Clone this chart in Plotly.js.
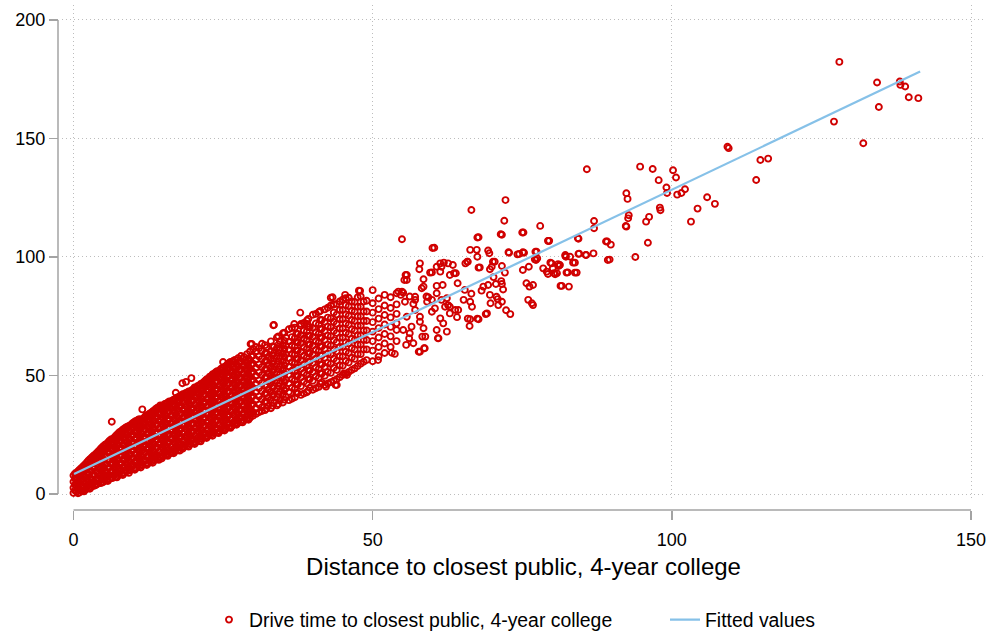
<!DOCTYPE html>
<html>
<head>
<meta charset="utf-8">
<script src="https://cdn.plot.ly/plotly-3.0.1.min.js"></script>
<style>html,body{margin:0;padding:0;background:#fff;}#chart{width:991px;height:631px;}</style>
</head>
<body>
<div id="chart"></div>
<script>
// Dense core: distance columns and the drive times read at each column
const coreDist = [0,0.5,1,1.5,2,2.5,3,3.5,4,4.5,5,5.5,6,6.5,7,7.5,8,8.5,9,9.5,10,10.5,11,11.5,12,12.5,13,13.5,14,14.5,15,15.5,16,16.5,17,17.5,18,18.5,19,19.5,20,20.5,21,21.5,22,22.5,23,23.5,24,24.5,25,25.5,26,26.5,27,27.5,28,28.5,29,29.5,30];
const coreTime = [
 [0.4,2.6,5.2,7.8],
 [1.0,3.8,6.5,9.0],
 [0.6,2.2,4.9,7.6,10.2],
 [1.4,3.6,6.3,9.1,11.4],
 [1.8,4.5,7.4,10.3,12.6],
 [2.4,5.4,8.6,11.5,14.1],
 [3.1,6.2,9.6,12.7,15.3],
 [3.5,5.0,7.9,11.0,14.2,16.4],
 [4.2,6.8,9.9,12.8,15.6,17.6],
 [4.6,7.7,10.8,14.0,16.9,19.0],
 [5.1,8.3,11.4,14.6,17.8,20.2],
 [5.8,9.2,12.6,15.8,18.9,21.0],
 [6.3,8.0,11.2,14.3,17.4,20.3,22.4],
 [6.7,9.6,12.8,16.1,19.0,21.8,23.1],
 [7.2,10.3,13.5,16.7,19.9,22.6,24.4],
 [7.8,11.0,14.4,17.6,20.8,23.7,25.6],
 [8.3,9.9,12.9,16.0,19.2,22.4,25.0,26.6],
 [8.9,11.6,14.9,18.1,21.3,24.2,27.5],
 [9.6,12.4,15.5,18.8,22.0,25.1,28.4],
 [10.0,13.3,16.6,19.8,23.0,26.2,28.9],
 [10.6,12.2,15.2,18.5,21.7,24.9,27.8,30.1],
 [11.0,13.9,17.1,20.3,23.5,26.6,29.4,30.8],
 [11.6,14.7,17.9,21.1,24.3,27.4,30.2,31.6],
 [12.1,15.4,18.6,21.9,25.2,28.4,31.0],
 [12.6,14.3,17.5,20.7,23.9,27.1,30.0,32.8],
 [13.0,16.1,19.3,22.6,25.8,28.9,31.8,33.4],
 [13.6,16.8,20.0,23.3,26.5,29.6,32.5,34.3],
 [14.2,17.6,20.9,24.1,27.4,30.6,33.6,35.2],
 [14.9,16.4,19.6,22.8,26.1,29.3,32.4,35.6,36.4],
 [15.4,18.3,21.5,24.8,28.0,31.2,34.3,37.4],
 [15.9,19.0,22.3,25.6,28.8,32.0,35.1,37.3],
 [16.5,19.8,23.0,26.3,29.6,32.9,36.0,38.1],
 [17.0,18.6,21.8,25.0,28.3,31.5,34.7,37.6,39.0],
 [17.5,20.5,23.7,27.0,30.2,33.4,36.6,39.4],
 [18.1,21.3,24.6,27.8,31.1,34.3,37.4,40.1],
 [18.6,22.0,25.3,28.6,31.9,35.1,38.3,40.8],
 [19.4,20.9,24.1,27.4,30.7,33.9,37.1,40.2,41.6],
 [19.9,22.8,26.1,29.4,32.6,35.8,39.0,42.0],
 [20.4,23.6,26.9,30.2,33.4,36.7,39.9,42.6],
 [21.0,24.4,27.7,31.0,34.2,37.5,40.7,43.2],
 [21.5,23.1,26.3,29.6,32.9,36.1,39.4,42.5,44.1],
 [22.0,25.2,28.5,31.8,35.0,38.3,41.5,44.8],
 [22.5,25.9,29.2,32.5,35.8,39.1,42.3,45.6],
 [23.3,26.8,30.1,33.4,36.7,40.0,43.2,46.5],
 [24.0,25.5,28.8,32.1,35.4,38.6,41.9,45.1,47.8],
 [24.5,27.4,30.7,34.0,37.3,40.6,43.9,47.0,48.4],
 [25.0,28.2,31.5,34.8,38.1,41.4,44.7,47.9,49.7],
 [25.6,29.0,32.3,35.6,38.9,42.2,45.5,48.8,50.6],
 [26.0,27.6,30.9,34.2,37.5,40.8,44.1,47.4,50.2,51.8],
 [26.6,29.7,33.0,36.3,39.6,42.9,46.2,49.4,52.4],
 [27.1,30.4,33.8,37.1,40.4,43.7,47.0,50.3,53.2],
 [27.6,31.1,34.5,37.8,41.2,44.5,47.8,51.1,54.0],
 [28.2,29.9,33.2,36.5,39.8,43.2,46.5,49.8,53.0,55.3],
 [28.7,31.9,35.3,38.6,41.9,45.3,48.6,51.9,55.8],
 [29.5,32.8,36.1,39.5,42.8,46.1,49.5,52.8,56.6],
 [30.0,33.5,36.9,40.2,43.6,47.0,50.3,53.7,57.3],
 [30.5,32.2,35.5,38.9,42.3,45.6,49.0,52.4,55.7,58.2],
 [31.0,34.3,37.7,41.1,44.5,47.8,51.2,54.6,57.8],
 [31.6,35.0,38.4,41.8,45.2,48.6,52.0,55.4,59.0],
 [32.2,35.8,39.2,42.6,46.0,49.4,52.8,56.3,60.1],
 [33.0,34.6,38.0,41.4,44.8,48.2,51.6,55.0,58.4,61.2]
];
// Dense core, in-between columns
const coreDistB = [0.25,0.75,1.25,1.75,2.25,2.75,3.25,3.75,4.25,4.75,5.25,5.75,6.25,6.75,7.25,7.75,8.25,8.75,9.25,9.75,10.25,10.75,11.25,11.75,12.25,12.75,13.25,13.75,14.25,14.75,15.25,15.75,16.25,16.75,17.25,17.75,18.25,18.75,19.25,19.75,20.25,20.75,21.25,21.75,22.25,22.75,23.25,23.75,24.25,24.75,25.25,25.75,26.25,26.75,27.25,27.75,28.25,28.75,29.25,29.75];
const coreTimeB = [
 [1.5,3.9,6.5,8.6],
 [0.3,2.4,5.1,7.8,9.6],
 [1.4,3.6,6.2,8.9,10.8],
 [1.1,2.5,5.0,7.7,10.2,12.0],
 [3.1,6.0,8.9,11.6,13.4],
 [2.2,3.9,7.0,10.1,12.9,14.7],
 [4.6,7.9,11.2,14.0,15.9],
 [3.8,6.4,9.5,12.6,15.3,17.0],
 [5.5,8.4,11.4,14.2,16.8,18.2],
 [4.8,6.2,9.3,12.4,15.5,18.3,19.6],
 [6.7,9.9,13.0,16.2,19.1,20.8],
 [5.5,7.5,10.9,14.2,17.4,20.2,21.7],
 [6.9,9.6,12.8,15.9,18.9,21.5,23.0],
 [8.1,11.2,14.5,17.6,20.5,23.6],
 [7.0,8.8,11.9,15.1,18.3,21.3,23.8,25.0],
 [9.4,12.7,16.0,19.2,22.3,24.8,26.2],
 [8.0,11.4,14.5,17.6,20.8,23.8,26.0,27.2],
 [10.2,13.3,16.5,19.7,22.8,25.8,28.1],
 [8.9,11.0,14.0,17.2,20.4,23.5,26.7,28.7],
 [11.6,14.9,18.2,21.4,24.6,27.6,29.6],
 [10.2,13.7,16.9,20.1,23.3,26.4,29.0,30.6],
 [12.4,15.5,18.7,21.9,25.1,28.0,30.1,31.2],
 [11.2,13.1,16.3,19.5,22.7,25.8,28.9,31.3],
 [13.7,17.0,20.2,23.5,26.7,29.8,32.0],
 [12.2,15.9,19.1,22.3,25.5,28.6,31.5,33.2],
 [14.5,17.7,21.0,24.2,27.4,30.4,32.9,34.0],
 [13.2,15.2,18.4,21.6,24.9,28.1,31.1,33.8,34.9],
 [15.8,19.2,22.5,25.8,29.0,32.1,34.8,35.9],
 [14.4,17.9,21.1,24.4,27.6,30.8,33.9,36.4],
 [15.0,16.8,19.9,23.2,26.4,29.6,32.7,35.8,37.3],
 [17.4,20.6,23.9,27.2,30.4,33.5,36.6,38.0],
 [16.1,18.2,21.4,24.7,27.9,31.2,34.4,37.1,38.6],
 [17.4,20.2,23.4,26.6,29.9,33.1,36.2,38.8],
 [17.2,19.0,22.1,25.3,28.6,31.8,35.0,38.0,39.8],
 [19.7,22.9,26.2,29.4,32.7,35.9,38.9,40.6],
 [18.3,20.3,23.6,26.9,30.2,33.5,36.7,39.7,41.2],
 [19.1,22.5,25.7,29.0,32.3,35.5,38.6,41.0,42.1],
 [21.3,24.4,27.7,31.0,34.2,37.4,40.5,42.6],
 [20.0,22.0,25.2,28.5,31.8,35.0,38.3,41.3,43.3],
 [22.7,26.0,29.3,32.6,35.8,39.1,42.1,43.8],
 [21.1,24.7,27.9,31.2,34.5,37.7,40.9,43.6,45.0],
 [23.6,26.8,30.1,33.4,36.6,39.9,43.1,45.6],
 [22.2,24.2,27.5,30.8,34.1,37.4,40.6,43.8,46.4],
 [25.0,28.4,31.7,35.0,38.3,41.5,44.6,47.2],
 [23.6,27.1,30.4,33.7,37.0,40.2,43.5,46.5,48.4],
 [25.9,29.0,32.3,35.6,38.9,42.2,45.4,48.6,49.5],
 [24.6,26.6,29.8,33.1,36.4,39.7,43.0,46.2,49.3,50.5],
 [27.3,30.6,33.9,37.2,40.5,43.8,47.1,50.0,51.4],
 [25.7,29.2,32.5,35.8,39.1,42.4,45.7,48.9,51.5],
 [28.1,31.4,34.7,38.0,41.3,44.6,47.9,51.0,53.0],
 [26.8,28.8,32.1,35.4,38.7,42.0,45.3,48.6,51.8,53.7],
 [29.4,32.8,36.1,39.5,42.8,46.1,49.4,52.6,54.8],
 [27.9,31.5,34.8,38.1,41.4,44.8,48.1,51.4,54.3],
 [30.3,33.6,36.9,40.3,43.6,46.9,50.3,53.6,56.2],
 [29.2,31.2,34.5,37.8,41.1,44.5,47.8,51.1,54.7],
 [31.8,35.2,38.6,41.9,45.3,48.6,52.0,55.4],
 [30.2,33.8,37.2,40.6,44.0,47.4,50.7,54.0,57.0],
 [32.6,36.0,39.4,42.8,46.2,49.6,52.9,56.4],
 [31.3,33.4,36.8,40.2,43.6,47.0,50.4,53.8,57.2],
 [34.0,37.4,40.8,44.2,47.6,51.0,54.4,58.0]
];
// Middle band: distance columns and drive times
const midDist = [31,32,32.5,33,33.5,34,34.5,35,35.5,36,37,37.5,38,39,39.5,40,41,41.5,42,43,44,45,46,47,48,49,50,51,52,53,54];
const midTime = [
 [34.5,37.8,41.2,44.6,48.0,51.3,54.7,58.0,61.5],
 [35.4,38.9,42.3,45.7,49.1,52.5,55.9,59.3,62.8],
 [37.0,40.5,44.0,47.5,51.0,54.4,57.8],
 [36.2,39.7,43.1,46.6,50.0,53.4,56.9,60.3,64.4],
 [38.5,42.0,45.5,49.0,52.5,56.0,59.5,62.0],
 [37.4,40.8,44.3,47.8,51.2,54.7,58.1,61.6,66.0],
 [39.5,43.2,46.8,50.4,54.0,57.6,61.0,64.5],
 [38.6,42.0,45.5,49.0,52.5,56.0,59.4,62.9,67.8],
 [41.0,44.6,48.2,51.8,55.4,59.0,62.6,66.0],
 [39.6,43.1,46.7,50.2,53.8,57.3,60.8,64.3,69.5],
 [40.8,44.4,48.0,51.6,55.2,58.8,62.3,65.8,70.2],
 [42.5,46.2,49.9,53.5,57.1,60.6,64.0,67.5],
 [41.8,45.5,49.2,52.8,56.4,60.0,63.6,67.0,71.0],
 [42.9,46.6,50.3,54.0,57.7,61.3,65.0,68.6,73.2],
 [44.8,48.5,52.2,55.9,59.6,63.2,66.8,70.4],
 [44.0,47.8,51.5,55.2,58.9,62.6,66.3,70.0,75.6],
 [45.2,49.0,52.8,56.5,60.3,64.0,67.7,71.5,76.8],
 [47.0,50.8,54.6,58.4,62.2,66.0,69.7,73.4],
 [46.0,49.9,53.7,57.5,61.3,65.1,68.9,72.7,77.9],
 [47.2,51.1,54.9,58.8,62.6,66.5,70.3,74.1,79.5],
 [48.4,52.3,56.2,60.1,64.0,67.9,71.8,75.7,80.2],
 [50.2,54.1,58.0,62.0,65.9,69.8,73.7,77.6,82.0],
 [51.5,55.5,59.5,63.5,67.5,71.4,75.3,79.2,82.8],
 [53.0,57.0,61.0,65.0,69.0,73.0,77.0,81.0],
 [55.0,59.0,63.0,67.0,71.0,75.0,79.0,83.4],
 [56.5,61.0,65.0,69.0,73.0,77.0,81.5],
 [56.0,60.5,64.5,68.5,72.5,76.5,80.5,86.0],
 [58.0,62.0,66.0,70.0,74.0,78.0,82.5],
 [59.5,63.5,67.5,71.5,75.5,79.5,84.0],
 [62.0,66.5,70.5,74.5,78.5,83.0],
 [64.5,72.0,76.0,80.0]
];
// Middle band, in-between columns
const midDistB = [30.5,31.5,32.25,33.25,34.25,35.25,36.5,37.25,38.5,39.25,40.5,41.25,42.5,43.5,44.5,45.5,46.5,47.5,48.5];
const midTimeB = [
 [33.8,36.3,39.7,43.1,46.5,49.9,53.3,56.7,60.2,62.0],
 [35.0,36.6,40.0,43.4,46.8,50.2,53.6,57.0,60.4,63.4],
 [36.0,39.2,42.6,46.0,49.4,52.8,56.2,59.6,61.8],
 [37.2,41.4,44.8,48.3,51.7,55.1,58.6,62.2],
 [38.0,42.1,45.6,49.1,52.6,56.0,59.5,63.0,66.5],
 [39.8,43.8,47.3,50.8,54.3,57.8,61.2,64.6,68.0],
 [40.2,44.8,48.4,52.0,55.6,59.1,62.6,66.2,70.0],
 [42.6,46.2,49.8,53.4,57.0,60.5,64.1,67.6],
 [42.4,47.4,51.1,54.7,58.3,61.9,65.5,69.0,72.2],
 [43.6,48.4,52.1,55.8,59.4,63.0,66.7,70.4,73.8],
 [44.6,49.6,53.4,57.1,60.8,64.5,68.2,71.9,76.0],
 [46.5,50.9,54.7,58.4,62.2,65.9,69.6,73.4,77.2],
 [46.6,51.5,55.3,59.2,63.0,66.8,70.6,74.4,78.6],
 [47.8,53.2,57.1,61.0,64.9,68.8,72.7,76.6,80.0],
 [49.3,54.2,58.1,62.0,65.9,69.8,73.7,77.6,81.2],
 [50.8,56.1,60.0,64.0,68.0,71.9,75.8,79.6,82.6],
 [52.3,57.5,61.5,65.5,69.5,73.4,77.3,81.2],
 [54.0,59.0,63.0,67.0,71.0,75.0,79.0,83.0],
 [55.8,61.0,65.0,69.0,73.0,77.0,81.2]
];
// Scattered points read individually
const tailDist = [6.4,11.5,17.1,18.2,18.8,19.7,21.8,24.0,25.0,26.2,22.0,29.6,29.8,33.4,33.5,36.9,38.0,39.1,37.9,42.2,43.8,45.2,44.0,45.7,43.3,45.4,47.9,47.7,43.0,
 54.9,60.3,67.7,71.6,75.2,79.5,66.3,67.4,69.3,69.5,67.5,72.8,74.5,75.3,77.4,77.5,77.3,65.8,67.9,69.6,69.9,70.4,71.6,72.1,
 57.9,57.8,55.7,55.7,55.1,54.3,54.7,55.4,57.1,56.8,58.5,59.6,60.7,61.3,61.9,62.6,63.4,61.3,62.9,63.9,64.2,61.7,60.7,58.2,59.3,59.1,60.4,62.4,62.6,63.8,64.1,62.9,59.9,61.3,61.8,57.9,57.1,55.7,56.5,57.9,58.5,58.8,56.1,56.8,55.6,61.0,62.4,60.7,56.2,55.1,54.0,53.2,53.7,57.9,58.7,50.9,
 65.4,66.3,66.6,67.7,66.3,69.1,71.0,71.6,70.7,69.6,68.5,69.3,70.6,71.6,73.0,75.7,76.2,76.8,76.0,76.6,76.8,78.5,79.1,79.9,81.0,80.8,81.6,83.0,75.1,76.1,79.3,80.5,81.3,82.3,83.8,84.1,82.6,81.4,82.8,80.1,
 59.9,61.5,63.6,65.5,65.9,67.7,70.1,68.9,67.5,65.9,66.2,60.9,58.3,58.6,57.7,66.5,68.2,69.7,70.9,72.3,71.8,70.2,71.5,
 54.0,54.9,56.2,57.1,58.5,59.0,59.9,60.7,61.5,62.1,62.9,64.3,65.2,55.3,55.5,
 66.5,72.2,72.0,71.4,67.5,60.0,78.0,75.0,79.3,84.3,87.0,87.0,77.1,72.7,74.2,75.1,77.2,82.2,84.4,85.7,86.9,89.2,89.3,
 128.0,134.3,138.1,138.2,139.0,139.6,141.2,134.6,127.1,132.0,109.3,109.5,114.8,116.1,114.1,85.8,94.7,96.8,100.2,100.7,97.8,99.1,99.2,100.9,101.6,102.2,92.4,92.6,92.8,92.7,92.3,92.4,96.2,95.7,98.0,98.1,105.9,104.3,107.2,103.2,84.4,89.0,89.8,96.0,89.6,93.9,84.5,85.6,79.4,82.2,83.5,79.7,81.1,80.3,82.4,83.8];
const tailTime = [30.5,35.7,42.7,46.7,47.3,48.9,46.4,47.4,55.7,55.7,46.0,63.3,63.3,71.2,71.3,71.7,71.7,71.7,76.5,45.3,46.0,50.9,46.0,50.2,83.0,84.0,85.7,85.8,82.8,
 107.5,103.9,108.3,109.4,110.3,106.8,103.0,103.0,102.7,101.6,100.1,101.8,101.3,101.8,102.2,99.4,98.7,98.0,95.6,94.8,95.9,98.0,96.2,93.4,
 97.3,94.8,92.4,90.3,84.9,85.4,84.0,81.1,83.2,80.2,90.6,93.4,95.9,97.3,97.6,97.3,96.6,93.8,92.4,93.1,88.9,88.2,87.8,86.8,83.0,81.1,78.3,82.6,79.7,77.6,74.6,76.2,76.9,74.1,72.0,74.8,77.6,74.8,70.6,72.7,69.9,66.4,65.7,63.6,62.9,65.7,68.5,69.2,67.8,69.2,69.2,59.6,59.1,60.0,61.5,56.5,
 86.1,81.1,79.0,73.7,73.7,76.2,79.7,81.1,83.2,84.0,87.5,88.2,88.6,88.6,75.9,88.9,87.5,88.2,81.9,80.5,79.7,95.2,93.8,97.3,97.0,93.1,87.8,100.1,94.5,95.9,92.8,92.7,96.6,100.1,97.6,93.4,93.5,87.8,87.5,95.2,
 93.5,95.9,93.1,97.3,98.0,95.5,98.0,75.9,74.0,74.0,70.9,65.7,66.4,61.5,60.0,84.5,85.8,80.5,82.2,77.5,86.3,91.5,89.8,
 84.7,85.4,83.3,81.9,87.5,83.3,81.9,84.7,81.9,79.0,79.0,77.6,81.9,90.3,92.4,
 119.8,124.0,115.3,109.6,108.2,103.8,113.1,110.3,106.8,107.9,115.2,112.1,99.0,102.0,101.1,102.0,102.2,100.8,101.3,100.8,101.5,106.5,98.7,
 182.3,173.6,174.0,172.6,171.9,167.4,167.0,163.3,157.1,148.0,146.5,145.9,140.9,141.5,132.5,137.0,138.1,137.1,136.6,133.5,132.4,129.3,127.0,126.3,127.0,128.6,126.9,124.5,117.6,116.3,113.1,112.8,116.9,114.9,120.8,119.7,125.2,120.4,122.4,114.9,107.7,106.5,105.2,106.0,98.9,100.0,101.4,100.8,106.8,100.4,97.6,97.6,96.2,93.1,93.4,93.4];
// Fitted values (linear fit), drawn across the distance range
const fitDist = [0.1, 141.5];
const fitTime = [8.4, 178.2];
const xTicks = [0, 50, 100, 150];
const yTicks = [0, 50, 100, 150, 200];
const xTitle = 'Distance to closest public, 4-year college';
const scatterName = 'Drive time to closest public, 4-year college';
const fitName = 'Fitted values';

// Build the point table from the columns
const ptsX = [], ptsY = [];
function addColumns(dists, times) {
  dists.forEach((d, i) => times[i].forEach(t => { ptsX.push(d); ptsY.push(t); }));
}
addColumns(coreDist, coreTime);
addColumns(coreDistB, coreTimeB);
addColumns(midDist, midTime);
addColumns(midDistB, midTimeB);
tailDist.forEach((d, i) => { ptsX.push(d); ptsY.push(tailTime[i]); });

const RED = '#d00000';
const BLUE = '#86c1e8';
const AXIS = '#a3a3a3';
const GRID = '#bdbdbd';
const FONT = 'Liberation Sans, Arial, sans-serif';
const xRange = [-1.92, 152.34];
const yRange = [-2.53, 206.3];

const traces = [
  { type: 'scatter', mode: 'markers', x: ptsX, y: ptsY, name: scatterName, legend: 'legend',
    xaxis: 'x', yaxis: 'y',
    marker: { symbol: 'circle-open', size: 6, color: RED, line: { color: RED, width: 1.9 } } },
  { type: 'scatter', mode: 'lines', x: fitDist, y: fitTime, name: fitName, legend: 'legend2',
    xaxis: 'x2', yaxis: 'y2',
    line: { color: BLUE, width: 2.2 } }
];

const legendFont = { size: 19.4, family: FONT, color: '#000000' };
const layout = {
  width: 991, height: 631,
  margin: { l: 58, r: 6, t: 5, b: 121 },
  paper_bgcolor: '#ffffff', plot_bgcolor: '#ffffff',
  font: { family: FONT, color: '#000000', size: 18 },
  showlegend: true,
  legend: { orientation: 'h', xref: 'container', yref: 'container', x: 209/991, xanchor: 'left',
            y: 11/631, yanchor: 'middle', font: legendFont, bgcolor: 'rgba(0,0,0,0)' },
  legend2: { orientation: 'h', xref: 'container', yref: 'container', x: 665/991, xanchor: 'left',
            y: 11/631, yanchor: 'middle', font: legendFont, bgcolor: 'rgba(0,0,0,0)' },
  xaxis: { domain: [4/927, 1], range: xRange, tickmode: 'array', tickvals: xTicks,
           showticklabels: false, ticks: '', showgrid: true, gridcolor: GRID, griddash: '1px,3px',
           gridwidth: 1, zeroline: false, showline: false, fixedrange: true },
  yaxis: { domain: [10/505, 1], range: yRange, tickmode: 'array', tickvals: yTicks,
           showticklabels: false, ticks: '', showgrid: true, gridcolor: GRID, griddash: '1px,3px',
           gridwidth: 1, zeroline: false, showline: false, fixedrange: true },
  xaxis2: { overlaying: 'x', anchor: 'free', position: 0, range: xRange, tickmode: 'array',
            tickvals: xTicks, ticks: 'outside', ticklen: 9, tickwidth: 1.5, tickcolor: AXIS,
            showgrid: false, zeroline: false, showline: false, ticklabelstandoff: 4,
            tickfont: { size: 18, family: FONT, color: '#000000' },
            title: { text: xTitle, font: { size: 24, family: FONT, color: '#000000' }, standoff: 9 },
            fixedrange: true },
  yaxis2: { overlaying: 'y', anchor: 'free', position: 0, side: 'left', range: yRange,
            tickmode: 'array', tickvals: yTicks, ticks: 'outside', ticklen: 9, tickwidth: 1.5,
            tickcolor: AXIS, showgrid: false, zeroline: false, showline: false,
            tickfont: { size: 18, family: FONT, color: '#000000' }, fixedrange: true },
  shapes: [
    { type: 'line', xref: 'x', yref: 'paper', x0: xTicks[0], x1: xTicks[xTicks.length-1], y0: 0, y1: 0,
      line: { color: AXIS, width: 1.5 } },
    { type: 'line', xref: 'paper', yref: 'y', x0: 0, x1: 0, y0: yTicks[0], y1: yTicks[yTicks.length-1],
      line: { color: AXIS, width: 1.5 } }
  ]
};

Plotly.newPlot('chart', traces, layout, { displayModeBar: false, staticPlot: true });
</script>
</body>
</html>
